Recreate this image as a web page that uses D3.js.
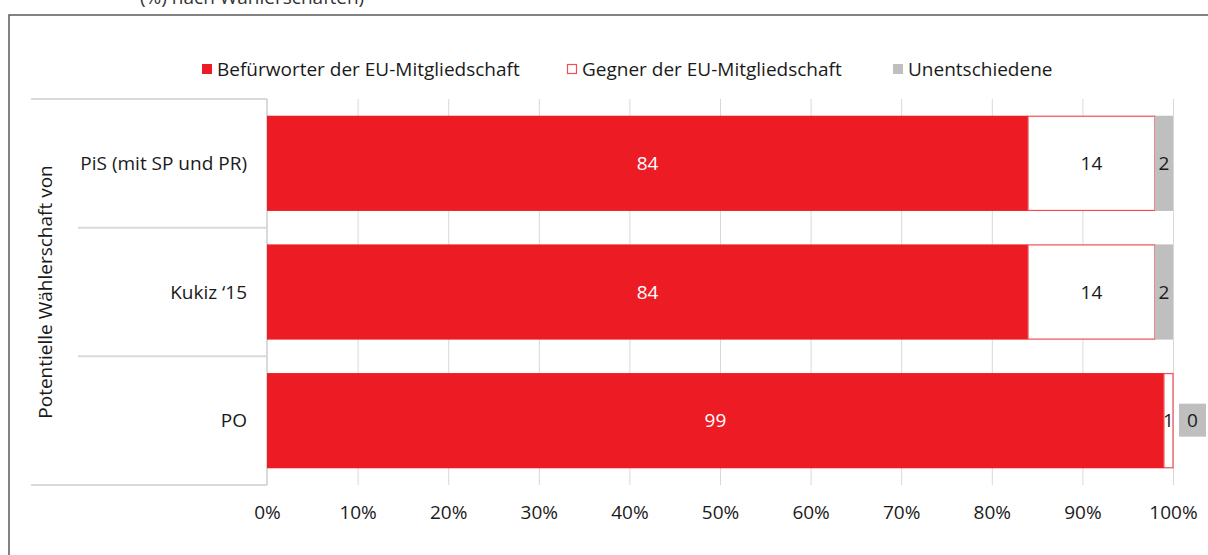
<!DOCTYPE html>
<html>
<head>
<meta charset="utf-8">
<script src="https://d3js.org/d3.v7.min.js"></script>
<style>
  body { margin: 0; background: #fff; }
  text { font-family: "Open Sans", sans-serif; }
</style>
</head>
<body>
<svg class="chart" width="1208" height="555"></svg>
<script>
// data
const categories = ["PiS (mit SP und PR)", "Kukiz \u201815", "PO"];
const befuerworter = [84, 84, 99];
const gegner = [14, 14, 1];
const unentschieden = [2, 2, 0];
const seriesNames = ["Befürworter der EU-Mitgliedschaft", "Gegner der EU-Mitgliedschaft", "Unentschiedene"];
const tickValues = [0, 10, 20, 30, 40, 50, 60, 70, 80, 90, 100];

const red = "#ED1C24", grey = "#BFBFBF", axisGrey = "#D9D9D9";
const fs = 19;

const svg = d3.select(".chart");

// cut-off heading above the frame
svg.append("text").attr("x", 140).attr("y", 4)
  .style("font-size", fs + "px").attr("fill", "#333")
  .text("(%) nach Wählerschaften)");

// frame
svg.append("rect").attr("x", 9).attr("y", 15).attr("width", 1300).attr("height", 600)
  .attr("fill", "none").attr("stroke", "#595959").attr("stroke-width", 1.5);

const xs = d3.scaleLinear().domain([0, 100]).range([267, 1173]);
const ys = d3.scaleBand().domain(categories).range([99, 485]).paddingInner(0.26).paddingOuter(0.13);

// vertical gridlines + x tick labels
const xAxis = d3.axisBottom(xs).tickValues(tickValues).tickFormat(d => d + "%")
  .tickSize(-(485 - 99)).tickPadding(21);
const gx = svg.append("g").attr("transform", "translate(0,485)").call(xAxis);
gx.select(".domain").remove();
gx.selectAll(".tick line").attr("stroke", axisGrey).attr("stroke-width", 1);
gx.selectAll(".tick text").style("font-size", fs + "px").attr("fill", "#1a1a1a")
  .style("font-family", "'Open Sans', sans-serif");

// category axis (two level)
const ax = svg.append("g").attr("stroke", axisGrey).attr("stroke-width", 2);
ax.append("line").attr("x1", 31).attr("x2", 267).attr("y1", 99).attr("y2", 99);
ax.append("line").attr("x1", 31).attr("x2", 267).attr("y1", 485).attr("y2", 485);
ax.append("line").attr("x1", 267).attr("x2", 267).attr("y1", 99).attr("y2", 485);
categories.slice(1).forEach(c => {
  const yy = ys(c) - ys.step() * ys.paddingInner() / 2;
  ax.append("line").attr("x1", 78).attr("x2", 267).attr("y1", yy).attr("y2", yy);
});

svg.append("g").selectAll("text").data(categories).join("text")
  .attr("x", 247).attr("y", d => ys(d) + ys.bandwidth() / 2)
  .attr("dy", "0.35em").attr("text-anchor", "end")
  .style("font-size", fs + "px").attr("fill", "#1a1a1a").text(d => d);

svg.append("text")
  .attr("transform", "translate(45," + ((99 + 485) / 2) + ") rotate(-90)")
  .attr("text-anchor", "middle").attr("dy", "0.35em")
  .style("font-size", fs + "px").attr("fill", "#1a1a1a")
  .text("Potentielle Wählerschaft von");

// stacked bars
const rows = categories.map((c, i) => ({ c, a: befuerworter[i], g: gegner[i], u: unentschieden[i] }));
const bars = svg.append("g");
rows.forEach(d => {
  const y0 = ys(d.c), h = ys.bandwidth();
  bars.append("rect").attr("x", xs(0)).attr("y", y0).attr("width", xs(d.a) - xs(0)).attr("height", h)
    .attr("fill", red);
  bars.append("rect").attr("x", xs(d.a)).attr("y", y0 + 0.5).attr("width", xs(d.a + d.g) - xs(d.a)).attr("height", h - 1)
    .attr("fill", "#fff").attr("stroke", "#EF4F55").attr("stroke-width", 1.2);
  if (d.u > 0) {
    bars.append("rect").attr("x", xs(d.a + d.g)).attr("y", y0).attr("width", xs(100) - xs(d.a + d.g)).attr("height", h)
      .attr("fill", grey);
  }
  const cy = y0 + h / 2;
  bars.append("text").attr("x", (xs(0) + xs(d.a)) / 2).attr("y", cy).attr("dy", "0.35em")
    .attr("text-anchor", "middle").attr("fill", "#fff").style("font-size", fs + "px").text(d.a);
  bars.append("text").attr("x", (xs(d.a) + xs(d.a + d.g)) / 2).attr("y", cy).attr("dy", "0.35em")
    .attr("text-anchor", "middle").attr("fill", "#1a1a1a").style("font-size", fs + "px").text(d.g);
  if (d.u > 0) {
    bars.append("text").attr("x", (xs(d.a + d.g) + xs(100)) / 2).attr("y", cy).attr("dy", "0.35em")
      .attr("text-anchor", "middle").attr("fill", "#1a1a1a").style("font-size", fs + "px").text(d.u);
  } else {
    // zero value: label in a grey box beside the bar
    const bx = xs(100) + 6;
    bars.append("rect").attr("x", bx).attr("y", cy - 17).attr("width", 27).attr("height", 33).attr("fill", grey);
    bars.append("text").attr("x", bx + 13.5).attr("y", cy).attr("dy", "0.35em")
      .attr("text-anchor", "middle").attr("fill", "#1a1a1a").style("font-size", fs + "px").text(d.u);
  }
});

// legend
const legendX = [202, 567, 893];
const lg = svg.append("g");
seriesNames.forEach((n, i) => {
  const sw = lg.append("rect").attr("x", legendX[i]).attr("y", 64).attr("width", 10).attr("height", 10);
  if (i === 0) sw.attr("fill", red);
  else if (i === 1) sw.attr("fill", "#fff").attr("stroke", "#EF4F55").attr("stroke-width", 1.2)
    .attr("x", legendX[i] + 0.5).attr("y", 64.5).attr("width", 9).attr("height", 9);
  else sw.attr("fill", grey);
  lg.append("text").attr("x", legendX[i] + 15).attr("y", 69).attr("dy", "0.35em")
    .style("font-size", fs + "px").attr("fill", "#1a1a1a").text(n);
});
</script>
</body>
</html>
